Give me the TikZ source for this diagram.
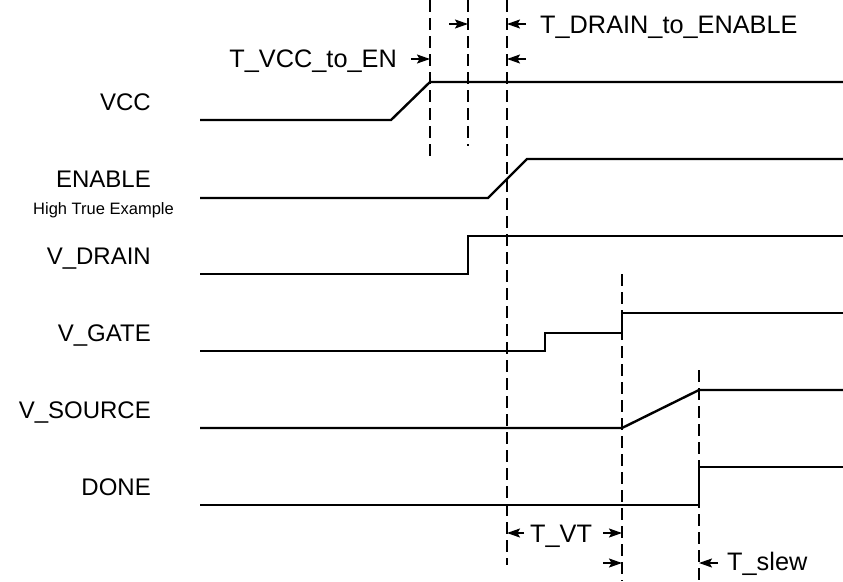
\documentclass[tikz,border=0pt]{standalone}
\usepackage{fontspec}
\setmainfont{Liberation Sans}
\usetikzlibrary{arrows.meta}

\begin{document}
\begin{tikzpicture}[
  x=1pt, y=-1pt,
  sig/.style={line width=2.4pt, line join=miter},
  guide/.style={line width=1.4pt, dash pattern=on 12pt off 6pt},
  dim/.style={-{Stealth[length=13pt, width=9pt, inset=2.5pt]}, line width=1.6pt},
  signame/.style={font=\fontsize{24}{28}\selectfont, inner sep=0pt, anchor=base east},
  timelbl/.style={font=\fontsize{25.3}{29}\selectfont, inner sep=0pt},
  sub/.style={font=\fontsize{16.5}{20}\selectfont, inner sep=0pt, anchor=base}
]
\useasboundingbox (0,0) rectangle (843,581);

% signal names
\node[signame] (vcc)    at (151,110) {VCC};
\node[signame] (enable) at (151,187) {ENABLE};
\node[sub] (hightrue)   at (103.5,214) {High True Example};
\node[signame] (vdrain) at (151,264) {V\_DRAIN};
\node[signame] (vgate)  at (151,341) {V\_GATE};
\node[signame] (vsrc)   at (151,418) {V\_SOURCE};
\node[signame] (done)   at (151,495) {DONE};

% guide lines
\draw[guide] (430,0) -- (430,160);
\draw[guide] (468,0) -- (468,146);
\draw[guide] (507,0) -- (507,565);
\draw[guide] (622,274) -- (622,581);
\draw[guide] (699,370) -- (699,581);

% waveforms
\draw[sig] (200,120) -- (391,120) -- (430,82) -- (843,82);
\draw[sig] (200,198) -- (488,198) -- (527,159) -- (843,159);
\draw[sig] (200,274) -- (468,274) -- (468,236) -- (843,236);
\draw[sig] (200,351) -- (545,351) -- (545,333) -- (622,333) -- (622,313) -- (843,313);
\draw[sig] (200,428) -- (622,428) -- (699,390) -- (843,390);
\draw[sig] (200,505) -- (699,505) -- (699,467) -- (843,467);

% timing marks, top
\node[timelbl, anchor=base east] (tvccen) at (397,67) {T\_VCC\_to\_EN};
\node[timelbl, anchor=base west] (tdrainen) at (540,33) {T\_DRAIN\_to\_ENABLE};
\draw[dim] (411,59) -- (430,59);
\draw[dim] (526,59) -- (507,59);
\draw[dim] (449,24) -- (468,24);
\draw[dim] (526,24) -- (507,24);

% timing marks, bottom
\node[timelbl, anchor=base west] (tvt) at (530,542) {T\_VT};
\node[timelbl, anchor=base west] (tslew) at (727,570) {T\_slew};
\draw[dim] (524,533) -- (507,533);
\draw[dim] (603,533) -- (622,533);
\draw[dim] (603,563) -- (622,563);
\draw[dim] (718,563) -- (699,563);
\end{tikzpicture}
\end{document}
